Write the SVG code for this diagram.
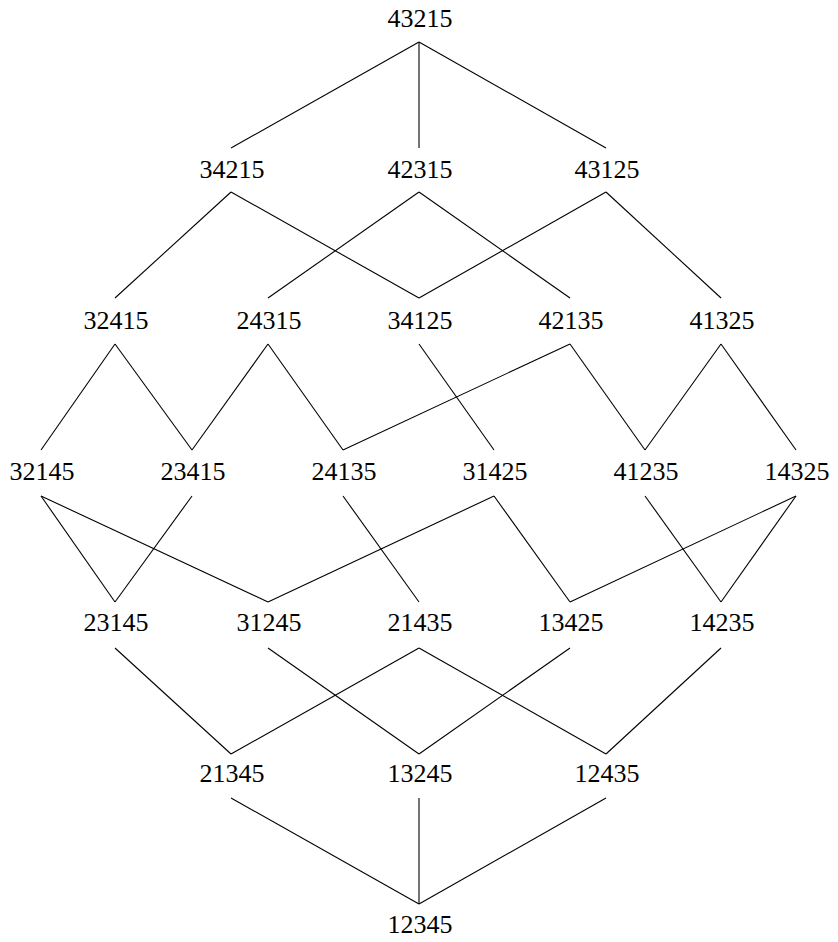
<svg xmlns="http://www.w3.org/2000/svg" width="838" height="942" viewBox="0 0 838 942">
<style>
text{font-family:"Liberation Serif","DejaVu Serif",serif;font-size:26px;fill:#000;text-anchor:middle}
line{stroke:#000;stroke-width:1.1}
</style>
<rect width="838" height="942" fill="#fff"/>
<g id="connectors">
<line x1="419" y1="42" x2="231" y2="148"/>
<line x1="419" y1="42" x2="419" y2="148"/>
<line x1="419" y1="42" x2="606" y2="148"/>
<line x1="231" y1="192" x2="115" y2="298"/>
<line x1="231" y1="192" x2="419" y2="298"/>
<line x1="419" y1="192" x2="268" y2="298"/>
<line x1="419" y1="192" x2="570" y2="298"/>
<line x1="606" y1="192" x2="419" y2="298"/>
<line x1="606" y1="192" x2="721" y2="298"/>
<line x1="115" y1="344" x2="41" y2="450"/>
<line x1="115" y1="344" x2="192" y2="450"/>
<line x1="268" y1="344" x2="192" y2="450"/>
<line x1="268" y1="344" x2="343" y2="450"/>
<line x1="419" y1="344" x2="494" y2="450"/>
<line x1="570" y1="344" x2="343" y2="450"/>
<line x1="570" y1="344" x2="645" y2="450"/>
<line x1="721" y1="344" x2="645" y2="450"/>
<line x1="721" y1="344" x2="796" y2="450"/>
<line x1="41" y1="496" x2="115" y2="602"/>
<line x1="41" y1="496" x2="268" y2="602"/>
<line x1="192" y1="496" x2="115" y2="602"/>
<line x1="343" y1="496" x2="419" y2="602"/>
<line x1="494" y1="496" x2="268" y2="602"/>
<line x1="494" y1="496" x2="570" y2="602"/>
<line x1="645" y1="496" x2="721" y2="602"/>
<line x1="796" y1="496" x2="570" y2="602"/>
<line x1="796" y1="496" x2="721" y2="602"/>
<line x1="115" y1="648" x2="231" y2="754"/>
<line x1="268" y1="648" x2="419" y2="754"/>
<line x1="419" y1="648" x2="231" y2="754"/>
<line x1="419" y1="648" x2="606" y2="754"/>
<line x1="570" y1="648" x2="419" y2="754"/>
<line x1="721" y1="648" x2="606" y2="754"/>
<line x1="231" y1="798" x2="419" y2="904"/>
<line x1="419" y1="798" x2="419" y2="904"/>
<line x1="606" y1="798" x2="419" y2="904"/>
</g>
<g id="n43215"><text x="420" y="27">43215</text></g>
<g id="n34215"><text x="232" y="178">34215</text></g>
<g id="n42315"><text x="420" y="178">42315</text></g>
<g id="n43125"><text x="607" y="178">43125</text></g>
<g id="n32415"><text x="116" y="329">32415</text></g>
<g id="n24315"><text x="269" y="329">24315</text></g>
<g id="n34125"><text x="420" y="329">34125</text></g>
<g id="n42135"><text x="571" y="329">42135</text></g>
<g id="n41325"><text x="722" y="329">41325</text></g>
<g id="n32145"><text x="42" y="480">32145</text></g>
<g id="n23415"><text x="193" y="480">23415</text></g>
<g id="n24135"><text x="344" y="480">24135</text></g>
<g id="n31425"><text x="495" y="480">31425</text></g>
<g id="n41235"><text x="646" y="480">41235</text></g>
<g id="n14325"><text x="797" y="480">14325</text></g>
<g id="n23145"><text x="116" y="631">23145</text></g>
<g id="n31245"><text x="269" y="631">31245</text></g>
<g id="n21435"><text x="420" y="631">21435</text></g>
<g id="n13425"><text x="571" y="631">13425</text></g>
<g id="n14235"><text x="722" y="631">14235</text></g>
<g id="n21345"><text x="232" y="782">21345</text></g>
<g id="n13245"><text x="420" y="782">13245</text></g>
<g id="n12435"><text x="607" y="782">12435</text></g>
<g id="n12345"><text x="420" y="933">12345</text></g>
</svg>
